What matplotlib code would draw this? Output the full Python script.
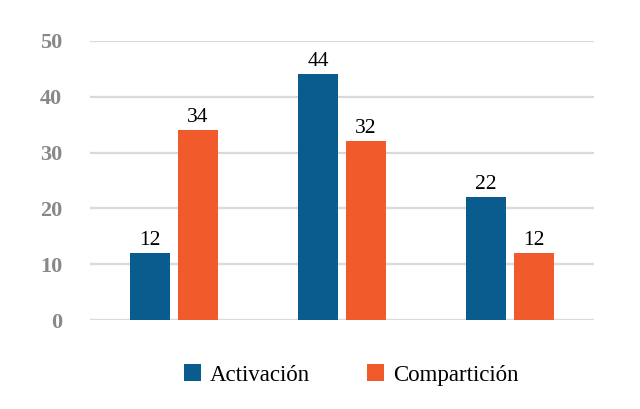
import matplotlib
matplotlib.use('Agg')
import matplotlib.pyplot as plt
import numpy as np

groups = ['', '', '']
activacion = [12, 44, 22]
comparticion = [34, 32, 12]
series_names = ['Activación', 'Compartición']
y_ticks = [0, 10, 20, 30, 40, 50]

BLUE = '#0b5c8e'
ORANGE = '#f15a2b'
SERIF = ['Liberation Serif', 'DejaVu Serif']
plt.rcParams['font.family'] = SERIF

fig = plt.figure(figsize=(6.4, 4.09), dpi=100)
ax = fig.add_axes([0.1406, 0.2176, 0.7875, 0.6822])

x = np.arange(len(groups))
w = 0.238
off = 0.143
b1 = ax.bar(x - off, activacion, w, color=BLUE, label=series_names[0], zorder=3)
b2 = ax.bar(x + off, comparticion, w, color=ORANGE, label=series_names[1], zorder=3)

for bars, vals in ((b1, activacion), (b2, comparticion)):
    for rect, v in zip(bars, vals):
        ax.text(rect.get_x() + rect.get_width() / 2, v + 0.6, str(v),
                ha='center', va='bottom', fontsize=15.5, color='black')

ax.set_xlim(-0.5, 2.5)
ax.set_ylim(0, 50)
ax.set_yticks(y_ticks)
ax.set_yticklabels([str(t) for t in y_ticks], fontsize=16,
                   fontweight='bold', color='#888888')
ax.tick_params(axis='y', length=0, pad=20)
ax.set_xticks([])
ax.yaxis.grid(True, color='#d9d9d9', linewidth=1.6, zorder=0)
for s in ax.spines.values():
    s.set_visible(False)

leg = fig.legend(handles=[b1, b2], loc='center', bbox_to_anchor=(0.549, 0.083),
                 ncol=2, frameon=False, prop={'size': 16.5},
                 handlelength=0.72, handleheight=0.72, handletextpad=0.4,
                 columnspacing=2.5)

fig.savefig('out.png', dpi=100)
